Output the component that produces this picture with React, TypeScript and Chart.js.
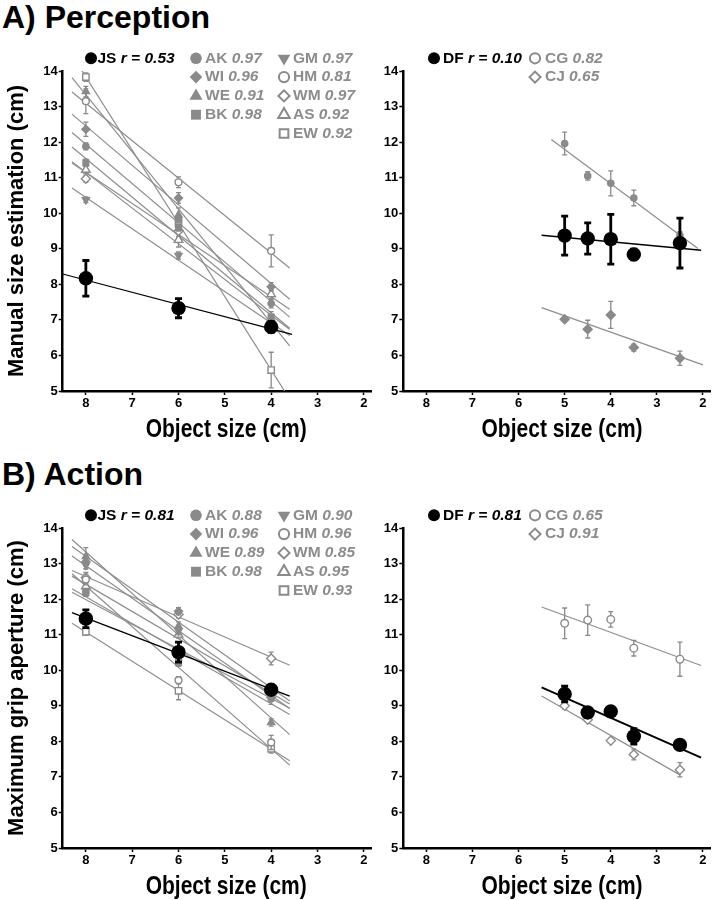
import React, { useEffect, useRef } from 'react';
import { Chart, registerables } from 'chart.js';

Chart.register(...registerables);

const ARIAL = "'Liberation Sans', Arial, Helvetica, sans-serif";
const GRAY = '#8a8a8a';
const GRAY_TEXT = '#8c8c8c';
const LINE_GRAY = '#8e8e8e';

// ---------- axes ----------
const xTickValues = [8, 7, 6, 5, 4, 3, 2];
const yTickValues = [5, 6, 7, 8, 9, 10, 11, 12, 13, 14];
const xAxisTitle = 'Object size (cm)';
const controlSizes = [8, 6, 4];
const patientSizes = [5, 4.5, 4, 3.5, 2.5];

// ---------- control subjects ----------
const controlNames = ['AK', 'WI', 'WE', 'BK', 'GM', 'HM', 'WM', 'AS', 'EW'];
const controlShapes = ['circle', 'rectRot', 'triangle', 'rect', 'triangleDown', 'circle', 'rectRot', 'triangle', 'rect'];
const controlOpen = [false, false, false, false, false, true, true, true, true];

// Perception (manual size estimation), values at 8, 6, 4 cm
const percR = [0.97, 0.96, 0.91, 0.98, 0.97, 0.81, 0.97, 0.92, 0.92];
const percAK = [11.88, 9.85, 7.46];
const percWI = [12.36, 10.43, 7.93];
const percWE = [13.42, 9.95, 7.0];
const percBK = [11.42, 9.6, 7.08];
const percGM = [10.38, 8.81, 6.85];
const percHM = [13.15, 10.87, 8.94];
const percWM = [10.97, 9.5, 6.95];
const percAS = [11.22, 9.25, 7.72];
const percEW = [13.83, 9.72, 5.59];
const percAKErr = [0.1, 0.1, 0.12];
const percWIErr = [0.2, 0.15, 0.12];
const percWEErr = [0.15, 0.2, 0.1];
const percBKErr = [0.1, 0.1, 0.15];
const percGMErr = [0.08, 0.1, 0.1];
const percHMErr = [0.35, 0.15, 0.45];
const percWMErr = [0.1, 0.15, 0.1];
const percASErr = [0.1, 0.2, 0.12];
const percEWErr = [0.12, 0.25, 0.5];

// Action (maximum grip aperture), values at 8, 6, 4 cm
const actR = [0.88, 0.96, 0.89, 0.98, 0.9, 0.96, 0.85, 0.95, 0.93];
const actAK = [12.2, 10.3, 9.19];
const actWI = [13.05, 11.66, 9.35];
const actWE = [13.2, 11.24, 8.53];
const actBK = [12.18, 10.21, 9.4];
const actGM = [12.95, 11.1, 9.3];
const actHM = [12.55, 9.72, 7.97];
const actWM = [12.6, 11.57, 10.33];
const actAS = [12.36, 11.0, 9.3];
const actEW = [11.08, 9.42, 7.79];
const actAKErr = [0.1, 0.1, 0.15];
const actWIErr = [0.2, 0.1, 0.1];
const actWEErr = [0.25, 0.12, 0.1];
const actBKErr = [0.1, 0.1, 0.1];
const actGMErr = [0.1, 0.1, 0.1];
const actHMErr = [0.15, 0.1, 0.2];
const actWMErr = [0.15, 0.1, 0.18];
const actASErr = [0.1, 0.1, 0.1];
const actEWErr = [0.1, 0.25, 0.12];

// Patient JS
const percJS = [8.17, 7.33, 6.8];
const percJSErr = [0.5, 0.27, 0.15];
const percJSr = 0.53;
const actJS = [11.45, 10.51, 9.45];
const actJSErr = [0.25, 0.28, 0.1];
const actJSr = 0.81;

// Patient DF and controls CG, CJ (values at 5, 4.5, 4, 3.5, 2.5 cm)
const percDF = [9.37, 9.29, 9.27, 8.84, 9.16];
const percDFErr = [0.55, 0.44, 0.7, 0.15, 0.7];
const percDFr = 0.1;
const percCG = [11.96, 11.05, 10.84, 10.43, 9.38];
const percCGErr = [0.32, 0.12, 0.35, 0.22, 0.1];
const percCGr = 0.82;
const percCJ = [7.02, 6.74, 7.14, 6.22, 5.92];
const percCJErr = [0.07, 0.25, 0.38, 0.1, 0.2];
const percCJr = 0.65;

const actDF = [9.33, 8.81, 8.84, 8.14, 7.9];
const actDFErr = [0.22, 0.1, 0.05, 0.22, 0.05];
const actDFr = 0.81;
const actCG = [11.32, 11.41, 11.43, 10.62, 10.31];
const actCGErr = [0.43, 0.43, 0.22, 0.22, 0.48];
const actCGr = 0.65;
const actCJ = [9.0, 8.61, 8.02, 7.63, 7.2];
const actCJErr = [0.1, 0.05, 0.05, 0.15, 0.2];
const actCJr = 0.91;

// regression line extents (cm)
const controlFitRange = [8.3, 3.6];
const percJSFitRange = [8.5, 3.55];
const actJSFitRange = [8.3, 3.6];
const percDFFitRange = [5.5, 2.04];
const percCGFitRange = [5.29, 2.11];
const percCJFitRange = [5.5, 2.0];
const actDFFitRange = [5.5, 2.04];
const actCGFitRange = [5.5, 2.04];
const actCJFitRange = [5.5, 2.5];

const percControls = [percAK, percWI, percWE, percBK, percGM, percHM, percWM, percAS, percEW];
const percControlErr = [percAKErr, percWIErr, percWEErr, percBKErr, percGMErr, percHMErr, percWMErr, percASErr, percEWErr];
const actControls = [actAK, actWI, actWE, actBK, actGM, actHM, actWM, actAS, actEW];
const actControlErr = [actAKErr, actWIErr, actWEErr, actBKErr, actGMErr, actHMErr, actWMErr, actASErr, actEWErr];

// ---------- helpers ----------
type Shape = 'circle' | 'rect' | 'rectRot' | 'triangle' | 'triangleDown';

interface Series {
  name: string;
  value: string;
  patient: boolean;
  shape: Shape;
  plotOpen: boolean;
  legendOpen: boolean;
  plotR?: number;
  xs: number[];
  ys: number[];
  errs: number[];
  fit: number[];
  col: number;
  row: number;
}

const PLOT_R: Record<string, number> = { circle: 3.8, rectRot: 5, triangle: 5.5, triangleDown: 5.5, rect: 5 };
const LEGEND_R: Record<string, number> = { circle: 5.8, rectRot: 6.3, triangle: 7.5, triangleDown: 7.3, rect: 7 };

function fitPoints(xs: number[], ys: number[], range: number[]) {
  const n = xs.length;
  const mx = xs.reduce((a, b) => a + b, 0) / n;
  const my = ys.reduce((a, b) => a + b, 0) / n;
  let sxy = 0;
  let sxx = 0;
  for (let i = 0; i < n; i++) {
    sxy += (xs[i] - mx) * (ys[i] - my);
    sxx += (xs[i] - mx) * (xs[i] - mx);
  }
  const slope = sxy / sxx;
  return range.map((x) => ({ x, y: my + slope * (x - mx) }));
}

function markerPath(ctx: CanvasRenderingContext2D, shape: Shape, x: number, y: number, r: number) {
  ctx.beginPath();
  if (shape === 'circle') {
    ctx.arc(x, y, r, 0, Math.PI * 2);
  } else if (shape === 'rect') {
    const s = r * Math.SQRT1_2;
    ctx.rect(x - s, y - s, 2 * s, 2 * s);
  } else if (shape === 'rectRot') {
    ctx.moveTo(x - r, y);
    ctx.lineTo(x, y - r);
    ctx.lineTo(x + r, y);
    ctx.lineTo(x, y + r);
    ctx.closePath();
  } else {
    let rad = shape === 'triangleDown' ? Math.PI : 0;
    for (let k = 0; k < 3; k++) {
      const px = x + Math.sin(rad) * r;
      const py = y - Math.cos(rad) * r;
      if (k === 0) ctx.moveTo(px, py);
      else ctx.lineTo(px, py);
      rad += (2 * Math.PI) / 3;
    }
    ctx.closePath();
  }
}

function makeControlSeries(vals: number[][], errs: number[][], rs: number[]): Series[] {
  return controlNames.map((name, i) => ({
    name,
    value: ' ' + rs[i].toFixed(2),
    patient: false,
    shape: controlShapes[i] as Shape,
    plotOpen: controlOpen[i],
    legendOpen: controlOpen[i],
    xs: controlSizes,
    ys: vals[i],
    errs: errs[i],
    fit: controlFitRange,
    col: i < 4 ? 1 : 2,
    row: i < 4 ? i : i - 4,
  }));
}

function patientSeries(name: string, ys: number[], errs: number[], r: number, xs: number[], fit: number[]): Series {
  return {
    name,
    value: ' r = ' + r.toFixed(2),
    patient: true,
    shape: 'circle',
    plotOpen: false,
    legendOpen: false,
    plotR: 7.2,
    xs,
    ys,
    errs,
    fit,
    col: 0,
    row: 0,
  };
}

interface PanelSpec {
  left: number;
  top: number;
  width: number;
  height: number;
  yAxisWidth: number;
  padRight: number;
  yTitle?: string;
  xTitleShift: number;
  patientLineWidth: number;
  legendMarkerX: number[];
  legendTextX: number[];
  legendRowY: number;
  series: Series[];
}

const BLOCK_B = 457.3;
const CANVAS_TOP = 36;
const CANVAS_H = 424;

const panels: PanelSpec[] = [
  {
    left: 0, top: CANVAS_TOP, width: 380, height: CANVAS_H, yAxisWidth: 62.7, padRight: 8.3,
    yTitle: 'Manual size estimation (cm)', xTitleShift: 9, patientLineWidth: 1.2,
    legendMarkerX: [91, 196, 284], legendTextX: [97.5, 205, 293], legendRowY: 58.3,
    series: [
      ...makeControlSeries(percControls, percControlErr, percR),
      patientSeries('JS', percJS, percJSErr, percJSr, controlSizes, percJSFitRange),
    ],
  },
  {
    left: 380, top: CANVAS_TOP, width: 338, height: CANVAS_H, yAxisWidth: 23.3, padRight: 6.3,
    xTitleShift: 5, patientLineWidth: 1.6,
    legendMarkerX: [434, 535], legendTextX: [443, 545], legendRowY: 58.3,
    series: [
      { name: 'CG', value: ' ' + percCGr.toFixed(2), patient: false, shape: 'circle', plotOpen: false, legendOpen: true, plotR: 3.8,
        xs: patientSizes, ys: percCG, errs: percCGErr, fit: percCGFitRange, col: 1, row: 0 },
      { name: 'CJ', value: ' ' + percCJr.toFixed(2), patient: false, shape: 'rectRot', plotOpen: false, legendOpen: true, plotR: 5.5,
        xs: patientSizes, ys: percCJ, errs: percCJErr, fit: percCJFitRange, col: 1, row: 1 },
      patientSeries('DF', percDF, percDFErr, percDFr, patientSizes, percDFFitRange),
    ],
  },
  {
    left: 0, top: CANVAS_TOP + BLOCK_B, width: 380, height: CANVAS_H, yAxisWidth: 62.7, padRight: 8.3,
    yTitle: 'Maximum grip aperture (cm)', xTitleShift: 9, patientLineWidth: 1.4,
    legendMarkerX: [91, 196, 284], legendTextX: [97.5, 205, 293], legendRowY: 58.3 + BLOCK_B,
    series: [
      ...makeControlSeries(actControls, actControlErr, actR),
      patientSeries('JS', actJS, actJSErr, actJSr, controlSizes, actJSFitRange),
    ],
  },
  {
    left: 380, top: CANVAS_TOP + BLOCK_B, width: 338, height: CANVAS_H, yAxisWidth: 23.3, padRight: 6.3,
    xTitleShift: 5, patientLineWidth: 2,
    legendMarkerX: [434, 535], legendTextX: [443, 545], legendRowY: 58.3 + BLOCK_B,
    series: [
      { name: 'CG', value: ' ' + actCGr.toFixed(2), patient: false, shape: 'circle', plotOpen: true, legendOpen: true, plotR: 3.8,
        xs: patientSizes, ys: actCG, errs: actCGErr, fit: actCGFitRange, col: 1, row: 0 },
      { name: 'CJ', value: ' ' + actCJr.toFixed(2), patient: false, shape: 'rectRot', plotOpen: true, legendOpen: true, plotR: 4.6,
        xs: patientSizes, ys: actCJ, errs: actCJErr, fit: actCJFitRange, col: 1, row: 1 },
      patientSeries('DF', actDF, actDFErr, actDFr, patientSizes, actDFFitRange),
    ],
  },
];

// ---------- plugins ----------
const errorBarPlugin = {
  id: 'errorBars',
  beforeDatasetDraw(chart: any, args: any) {
    const ds: any = chart.data.datasets[args.index];
    if (!ds.errors) return;
    const ctx: CanvasRenderingContext2D = chart.ctx;
    const xs = chart.scales.x;
    const ys = chart.scales.y;
    ctx.save();
    ctx.strokeStyle = ds.errColor;
    ctx.lineWidth = ds.errWidth;
    ds.data.forEach((p: any, i: number) => {
      const e = ds.errors[i];
      if (!e) return;
      const px = xs.getPixelForValue(p.x);
      const top = ys.getPixelForValue(p.y + e);
      const bot = ys.getPixelForValue(p.y - e);
      const c = ds.errCap;
      ctx.beginPath();
      ctx.moveTo(px, top);
      ctx.lineTo(px, bot);
      ctx.moveTo(px - c, top);
      ctx.lineTo(px + c, top);
      ctx.moveTo(px - c, bot);
      ctx.lineTo(px + c, bot);
      ctx.stroke();
    });
    ctx.restore();
  },
};

function makeLegendPlugin(spec: PanelSpec) {
  return {
    id: 'subjectLegend',
    afterDraw(chart: any) {
      const ctx: CanvasRenderingContext2D = chart.ctx;
      ctx.save();
      ctx.textBaseline = 'middle';
      ctx.textAlign = 'left';
      for (const s of spec.series) {
        const y = spec.legendRowY + s.row * 18.8 - spec.top;
        const mx = spec.legendMarkerX[s.col] - spec.left;
        const color = s.patient ? '#000' : GRAY;
        const r = s.patient ? 6 : (s.legendOpen ? LEGEND_R[s.shape] * 0.88 : LEGEND_R[s.shape]);
        markerPath(ctx, s.shape, mx, y, r);
        if (s.legendOpen) {
          ctx.fillStyle = '#fff';
          ctx.fill();
          ctx.lineWidth = 2;
          ctx.strokeStyle = color;
          ctx.stroke();
        } else {
          ctx.fillStyle = color;
          ctx.fill();
        }
        let tx = spec.legendTextX[s.col] - spec.left;
        ctx.fillStyle = s.patient ? '#000' : GRAY_TEXT;
        ctx.font = `bold 15.5px ${ARIAL}`;
        ctx.fillText(s.name, tx, y);
        tx += ctx.measureText(s.name).width;
        ctx.font = `italic bold 15.5px ${ARIAL}`;
        ctx.fillText(s.value, tx, y);
      }
      ctx.restore();

      // condensed bold x-axis title
      const area = chart.chartArea;
      ctx.save();
      ctx.font = `bold 25px ${ARIAL}`;
      ctx.textAlign = 'center';
      ctx.textBaseline = 'middle';
      ctx.fillStyle = '#000';
      ctx.translate((area.left + area.right) / 2 + spec.xTitleShift, area.bottom + 39);
      ctx.scale(0.84, 1);
      ctx.fillText(xAxisTitle, 0, 0);
      ctx.restore();
    },
  };
}

function buildConfig(spec: PanelSpec): any {
  const datasets: any[] = [];
  spec.series.forEach((s) => {
    datasets.push({
      label: s.name + ' fit',
      data: fitPoints(s.xs, s.ys, s.fit),
      showLine: true,
      borderColor: s.patient ? '#000' : LINE_GRAY,
      borderWidth: s.patient ? spec.patientLineWidth : 1.2,
      pointRadius: 0,
      pointHoverRadius: 0,
      fill: false,
      order: s.patient ? 5 : 10,
    });
    const r = s.plotR ?? (s.plotOpen ? PLOT_R[s.shape] * 0.9 : PLOT_R[s.shape]);
    datasets.push({
      label: s.name,
      data: s.xs.map((x, i) => ({ x, y: s.ys[i] })),
      showLine: false,
      pointStyle: s.shape === 'triangleDown' ? 'triangle' : s.shape,
      pointRotation: s.shape === 'triangleDown' ? 180 : 0,
      pointRadius: r,
      pointHoverRadius: r,
      pointBackgroundColor: s.patient ? '#000' : s.plotOpen ? '#fff' : GRAY,
      pointBorderColor: s.patient ? '#000' : GRAY,
      pointBorderWidth: s.plotOpen ? 1.4 : 0,
      errors: s.errs,
      errColor: s.patient ? '#000' : GRAY,
      errWidth: s.patient ? 2.8 : 1.3,
      errCap: s.patient ? 3.5 : 2.5,
      order: s.patient ? 0 : 2,
      clip: false,
    });
  });

  const tickFont = { family: ARIAL, weight: 'bold' as const, size: 13 };
  return {
    type: 'scatter',
    data: { datasets },
    options: {
      responsive: false,
      animation: false,
      events: [],
      layout: { padding: { top: 35, bottom: 7, left: 0, right: spec.padRight } },
      plugins: { legend: { display: false }, tooltip: { enabled: false }, title: { display: false } },
      scales: {
        x: {
          type: 'linear',
          reverse: true,
          min: 1.83,
          max: 8.5,
          afterBuildTicks: (axis: any) => {
            axis.ticks = xTickValues.map((v) => ({ value: v }));
          },
          afterFit: (axis: any) => {
            axis.height = 62;
          },
          grid: { display: true, drawOnChartArea: false, drawTicks: true, tickLength: 4, tickColor: '#000', tickWidth: 1.5 },
          border: { display: true, color: '#000', width: 2.5 },
          ticks: { font: tickFont, color: '#000', padding: 1, maxRotation: 0, autoSkip: false },
          title: { display: false, text: xAxisTitle },
        },
        y: {
          type: 'linear',
          min: 5,
          max: 14,
          afterBuildTicks: (axis: any) => {
            axis.ticks = yTickValues.map((v) => ({ value: v }));
          },
          afterFit: (axis: any) => {
            axis.width = spec.yAxisWidth;
          },
          grid: { display: true, drawOnChartArea: false, drawTicks: true, tickLength: 4, tickColor: '#000', tickWidth: 1.5 },
          border: { display: true, color: '#000', width: 2.5 },
          ticks: { font: tickFont, color: '#000', padding: 1, autoSkip: false },
          title: {
            display: !!spec.yTitle,
            text: spec.yTitle || '',
            color: '#000',
            font: { family: ARIAL, weight: 'bold', size: 22 },
            padding: { top: 4, bottom: 0 },
          },
        },
      },
    },
    plugins: [errorBarPlugin, makeLegendPlugin(spec)],
  };
}

function Panel({ spec }: { spec: PanelSpec }) {
  const ref = useRef<HTMLCanvasElement>(null);
  useEffect(() => {
    if (!ref.current) return;
    const chart = new Chart(ref.current, buildConfig(spec));
    return () => chart.destroy();
  }, [spec]);
  return (
    <canvas
      ref={ref}
      width={spec.width}
      height={spec.height}
      style={{ position: 'absolute', left: spec.left, top: spec.top, width: spec.width, height: spec.height }}
    />
  );
}

const titleStyle: React.CSSProperties = {
  position: 'absolute',
  left: 2,
  font: `bold 32px ${ARIAL}`,
  lineHeight: '32px',
  color: '#000',
  whiteSpace: 'nowrap',
};

export default function App() {
  return (
    <div style={{ position: 'absolute', left: 0, top: 0, width: 718, height: 900, background: '#fff', overflow: 'hidden' }}>
      <div style={{ ...titleStyle, top: 1 }}>A) Perception</div>
      <div style={{ ...titleStyle, top: 1 + BLOCK_B }}>B) Action</div>
      {panels.map((p, i) => (
        <Panel key={i} spec={p} />
      ))}
    </div>
  );
}
